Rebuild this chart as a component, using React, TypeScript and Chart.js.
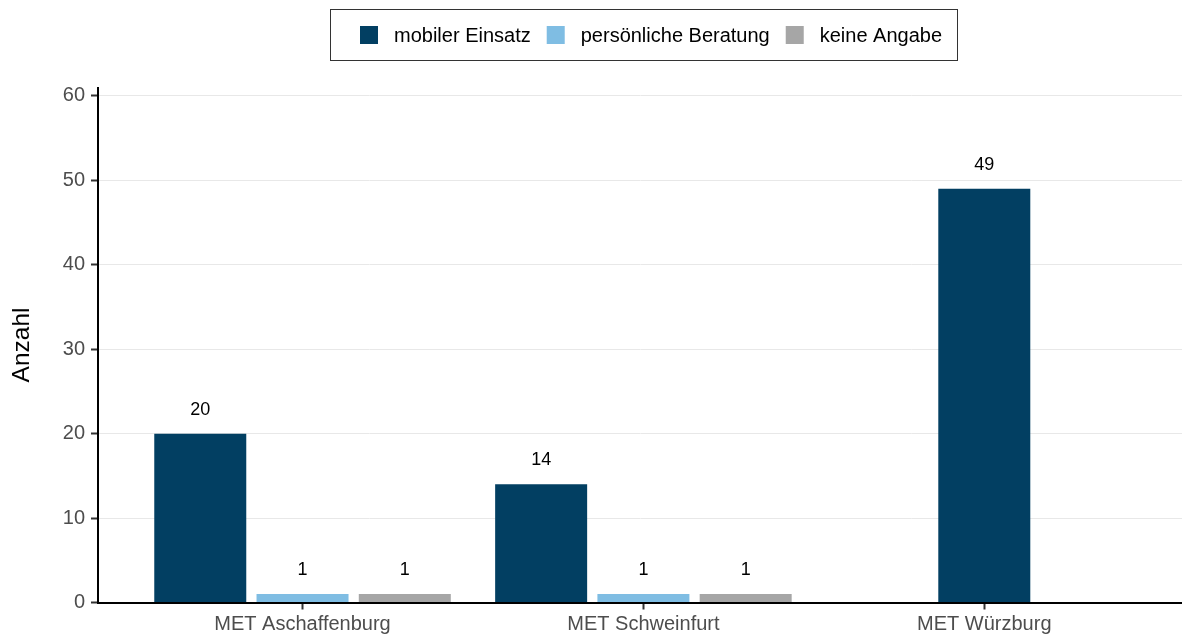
import React, { useEffect, useRef } from "react";
import { Chart, registerables } from "chart.js";

Chart.register(...registerables);

// ---- data ----
const categories = ["MET Aschaffenburg", "MET Schweinfurt", "MET Würzburg"];
const seriesNames = ["mobiler Einsatz", "persönliche Beratung", "keine Angabe"];
const mobilerEinsatz = [20, 14, 49];
const persoenlicheBeratung = [1, 1, null];
const keineAngabe = [1, 1, null];
const yTickValues = [0, 10, 20, 30, 40, 50, 60];
const yAxisMax = 61;
const yAxisTitle = "Anzahl";

// ---- styles ----
const seriesColors = ["#023f62", "#7fbde3", "#a6a6a6"];
const FONT = "'Liberation Sans', Arial, Helvetica, sans-serif";

const boxedLegend = {
  id: "boxedLegend",
  afterDraw(chart: any) {
    const ctx = chart.ctx as CanvasRenderingContext2D;
    const ds = chart.data.datasets;
    ctx.save();
    ctx.font = `20px ${FONT}`;
    const key = 18;
    const gapKT = 16;
    const gapTK = 16;
    const padL = 30;
    const padR = 15;
    const widths = ds.map((d: any) => ctx.measureText(d.label).width);
    let total = padL + padR;
    widths.forEach((w: number, i: number) => {
      total += key + gapKT + w + (i < widths.length - 1 ? gapTK : 0);
    });
    const cx = chart.scales.x.getPixelForValue(1);
    const left = Math.round(cx - total / 2) + 0.5;
    const top = 9.5;
    const h = 51;
    ctx.strokeStyle = "#333";
    ctx.lineWidth = 1;
    ctx.strokeRect(left, top, Math.round(total), h);
    let x = left - 0.5 + padL;
    const cy = top + h / 2;
    ds.forEach((d: any, i: number) => {
      ctx.fillStyle = d.backgroundColor;
      ctx.fillRect(x, Math.round(cy - key / 2), key, key);
      x += key + gapKT;
      ctx.fillStyle = "#000";
      ctx.textBaseline = "middle";
      ctx.textAlign = "left";
      ctx.fillText(d.label, x, cy + 1);
      x += widths[i] + gapTK;
    });
    ctx.restore();
  },
};

const valueLabels = {
  id: "valueLabels",
  afterDatasetsDraw(chart: any) {
    const ctx = chart.ctx as CanvasRenderingContext2D;
    ctx.save();
    ctx.font = `18px ${FONT}`;
    ctx.fillStyle = "#000";
    ctx.textAlign = "center";
    ctx.textBaseline = "middle";
    chart.data.datasets.forEach((d: any, di: number) => {
      const meta = chart.getDatasetMeta(di);
      meta.data.forEach((el: any, i: number) => {
        const v = d.data[i];
        if (v === null || v === undefined) return;
        ctx.fillText(String(v), el.x, el.y - 24);
      });
    });
    ctx.restore();
  },
};

export default function App() {
  const ref = useRef<HTMLCanvasElement>(null);
  useEffect(() => {
    const series = [mobilerEinsatz, persoenlicheBeratung, keineAngabe];
    const chart = new Chart(ref.current as HTMLCanvasElement, {
      type: "bar",
      data: {
        labels: categories,
        datasets: series.map((data, i) => ({
          label: seriesNames[i],
          data: data as any,
          backgroundColor: seriesColors[i],
          borderWidth: 0,
          categoryPercentage: 0.9,
          barPercentage: 0.9,
          maxBarThickness: 92,
          skipNull: true,
        })),
      },
      options: {
        responsive: false,
        animation: false,
        devicePixelRatio: 1,
        layout: { padding: { top: 87.5, left: 0, right: 0, bottom: 0 } },
        plugins: {
          legend: { display: false },
          tooltip: { enabled: false },
        },
        scales: {
          x: {
            type: "category",
            offset: false,
            afterBuildTicks: (s: any) => {
              s._startValue = -0.6;
              s._valueRange = 3.18;
            },
            afterFit: (s: any) => {
              s.height = 38.5;
              s.paddingLeft = 0;
              s.paddingRight = 0;
            },
            grid: {
              display: true,
              drawOnChartArea: false,
              drawTicks: true,
              tickLength: 7,
              tickColor: "#333",
              tickWidth: 2,
              offset: false,
            },
            border: { display: true, color: "#000", width: 2 },
            ticks: {
              color: "#4d4d4d",
              font: { family: FONT, size: 20 },
              padding: 3,
              maxRotation: 0,
              autoSkip: false,
            },
          },
          y: {
            min: 0,
            max: yAxisMax,
            afterBuildTicks: (s: any) => {
              s.ticks = yTickValues.map((v) => ({ value: v }));
            },
            afterFit: (s: any) => {
              s.width = 98;
              s.paddingTop = 0;
              s.paddingBottom = 0;
            },
            grid: {
              color: "#e8e8e8",
              lineWidth: 1,
              tickColor: "#333",
              tickLength: 7,
              tickWidth: 2,
            },
            border: { display: true, color: "#000", width: 2 },
            ticks: {
              color: "#4d4d4d",
              font: { family: FONT, size: 20 },
              padding: 6,
            },
            title: {
              display: true,
              text: yAxisTitle,
              color: "#000",
              font: { family: FONT, size: 24.5 },
              padding: { top: 8, bottom: 0 },
            },
          },
        },
      } as any,
      plugins: [boxedLegend, valueLabels],
    });
    return () => chart.destroy();
  }, []);
  return (
    <div style={{ position: "fixed", left: 0, top: 0, width: 1182, height: 641, background: "#fff" }}>
      <canvas ref={ref} width={1182} height={641} style={{ display: "block", width: 1182, height: 641 }} />
    </div>
  );
}
